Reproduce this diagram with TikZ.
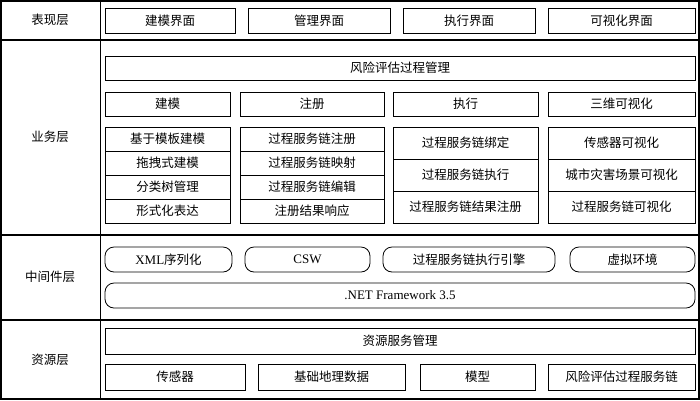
\documentclass[tikz,border=0pt]{standalone}
\usepackage{fontspec}
\setmainfont{Liberation Serif}
\newfontfamily\cjk{Noto Sans CJK SC}
\tikzset{
  box/.style={draw, thick, inner sep=0pt, font=\cjk\fontsize{12.5}{12.5}\selectfont},
  pill/.style={box, rounded corners=9pt},
  layer/.style={font=\cjk\fontsize{12.5}{12.5}\selectfont}
}
% box from (x1,y1) to (x2,y2) in pixels
\newcommand{\bx}[6][box]{\node[#1, minimum width=#4-#2, minimum height=#5-#3] at ({(#2+#4)/2},{(#3+#5)/2}) {#6};}
\newcommand{\lat}[1]{{\rmfamily\fontsize{13}{13}\selectfont #1}}
\begin{document}
\begin{tikzpicture}[x=1pt, y=-1pt]
  \useasboundingbox (0,0) rectangle (700,400);
  % layers
  \draw[very thick] (1,1) rectangle (699,399);
  \draw[thick] (100,1) -- (100,399);
  \draw[very thick] (1,40) -- (699,40);
  \draw[very thick] (1,235) -- (699,235);
  \draw[very thick] (1,320) -- (699,320);
  \node[layer] (l1) at (50,20) {表现层};
  \node[layer] (l2) at (50,137) {业务层};
  \node[layer] (l3) at (50,277) {中间件层};
  \node[layer] (l4) at (50,360) {资源层};
  % presentation
  \bx{105}{8}{235}{33}{建模界面}
  \bx{248}{8}{390}{33}{管理界面}
  \bx{403}{8}{535}{33}{执行界面}
  \bx{548}{8}{695}{33}{可视化界面}
  % business
  \bx{105}{56}{695}{80}{风险评估过程管理}
  \bx{105}{92}{230}{116}{建模}
  \bx{240}{92}{384}{116}{注册}
  \bx{393}{92}{538}{116}{执行}
  \bx{548}{92}{695}{116}{三维可视化}
  \bx{105}{127}{230}{151}{基于模板建模}
  \bx{105}{151}{230}{175}{拖拽式建模}
  \bx{105}{175}{230}{199}{分类树管理}
  \bx{105}{199}{230}{223}{形式化表达}
  \bx{240}{127}{384}{151}{过程服务链注册}
  \bx{240}{151}{384}{175}{过程服务链映射}
  \bx{240}{175}{384}{199}{过程服务链编辑}
  \bx{240}{199}{384}{223}{注册结果响应}
  \bx{393}{127}{538}{159}{过程服务链绑定}
  \bx{393}{159}{538}{191}{过程服务链执行}
  \bx{393}{191}{538}{223}{过程服务链结果注册}
  \bx{548}{127}{695}{159}{传感器可视化}
  \bx{548}{159}{695}{191}{城市灾害场景可视化}
  \bx{548}{191}{695}{223}{过程服务链可视化}
  % middleware
  \bx[pill]{105}{247}{232}{272}{\lat{XML}序列化}
  \bx[pill]{245}{247}{370}{272}{\lat{CSW}}
  \bx[pill]{383}{247}{555}{272}{过程服务链执行引擎}
  \bx[pill]{570}{247}{695}{272}{虚拟环境}
  \bx[pill]{105}{283}{695}{308}{\lat{.NET Framework 3.5}}
  % resources
  \bx{105}{328}{695}{354}{资源服务管理}
  \bx{105}{364}{245}{390}{传感器}
  \bx{258}{364}{405}{390}{基础地理数据}
  \bx{420}{364}{535}{390}{模型}
  \bx{548}{364}{695}{390}{风险评估过程服务链}
\end{tikzpicture}
\end{document}
